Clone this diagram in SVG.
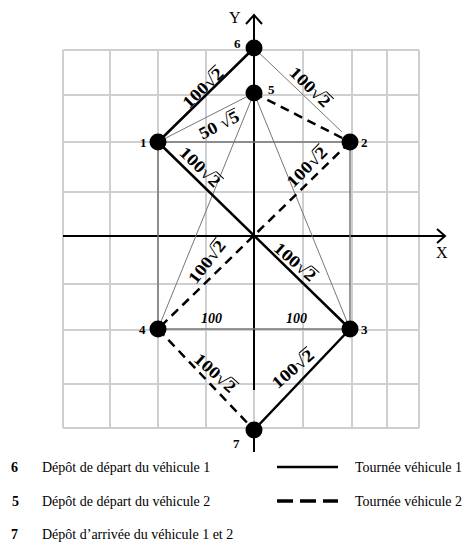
<svg xmlns="http://www.w3.org/2000/svg" width="465" height="542" viewBox="0 0 465 542">
<style>
.grid{stroke:#cfcfcf;stroke-width:2;fill:none}
.ref{stroke:#777;stroke-width:1.5;fill:none}
.thin{stroke:#777;stroke-width:1;fill:none}
.axis{stroke:#000;stroke-width:2;fill:none}
.v1{stroke:#000;stroke-width:2.5;fill:none}
.v2{stroke:#000;stroke-width:2.5;fill:none;stroke-dasharray:9 6}
.node{fill:#000}
.nl{font-family:"Liberation Serif",serif;font-weight:bold;font-size:13px;fill:#000}
.el{font-family:"Liberation Serif",serif;font-weight:bold;font-size:17px;fill:#000}
.it{font-family:"Liberation Serif",serif;font-weight:bold;font-style:italic;font-size:14px;fill:#000}
.vin{stroke:#000;stroke-width:1}
.ax{font-family:"Liberation Serif",serif;font-size:16px;fill:#000}
.lg{font-family:"Liberation Serif",serif;font-size:14px;fill:#000}
.lgn{font-family:"Liberation Serif",serif;font-weight:bold;font-size:14px;fill:#000}
</style>
<g id="grid">
<path class="grid" d="M63 50V428M110 50V428M158 50V428M206 50V428M254 50V428M303 50V428M352 50V428M387 50V428M419 50V428"/>
<path class="grid" d="M63 50H419M63 95H419M63 142H419M63 192H419M63 236H419M63 284H419M63 330H419M63 384H419M63 428H419"/>
</g>
<g id="axes">
<path class="axis" d="M63 236H445M437 229L445 236L437 243"/>
<path class="axis" d="M254 390V15M246 24L254 15L262 24M254 430V452"/>
<text class="ax" x="436" y="258">X</text>
<text class="ax" x="229" y="23">Y</text>
</g>
<g id="connectors">
<path class="ref" d="M158 142V329M350 142V329M158 142H350M158 329H350"/>
<path class="thin" d="M254 48L342 132M158 142L254 93M254 93L158 329M254 93L350 329"/>
<path class="v1" d="M254 48L158 142M158 142L350 329M350 329L254 430"/>
<path class="v2" d="M254 93L350 142M350 142L158 329M158 329L254 430"/>
</g>
<g id="edge-labels">
<g transform="translate(203,88) rotate(-44) scale(1.15,1)"><text class="el" x="-21.7" y="5.5">100√2</text><line class="vin" x1="13" y1="-8" x2="22" y2="-8"/></g>
<g transform="translate(310,87) rotate(44) scale(1.15,1)"><text class="el" x="-21.7" y="5.5">100√2</text><line class="vin" x1="13" y1="-8" x2="22" y2="-8"/></g>
<g transform="translate(200,167) rotate(44) scale(1.15,1)"><text class="el" x="-21.7" y="5.5">100√2</text><line class="vin" x1="13" y1="-8" x2="22" y2="-8"/></g>
<g transform="translate(307,167) rotate(-45) scale(1.15,1)"><text class="el" x="-21.7" y="5.5">100√2</text><line class="vin" x1="13" y1="-8" x2="22" y2="-8"/></g>
<g transform="translate(207,262) rotate(-52) scale(1.15,1)"><text class="el" x="-21.7" y="5.5">100√2</text><line class="vin" x1="13" y1="-8" x2="22" y2="-8"/></g>
<g transform="translate(295,262) rotate(41) scale(1.15,1)"><text class="el" x="-21.7" y="5.5">100√2</text><line class="vin" x1="13" y1="-8" x2="22" y2="-8"/></g>
<g transform="translate(215,373) rotate(42) scale(1.15,1)"><text class="el" x="-21.7" y="5.5">100√2</text><line class="vin" x1="13" y1="-8" x2="22" y2="-8"/></g>
<g transform="translate(293,369) rotate(-41) scale(1.15,1)"><text class="el" x="-21.7" y="5.5">100√2</text><line class="vin" x1="13" y1="-8" x2="22" y2="-8"/></g>
<g transform="translate(219,125) rotate(-27) scale(1.1,1)"><text class="el" x="-19.5" y="5.5">50 √5</text><line class="vin" x1="11" y1="-8" x2="20" y2="-8"/></g>
<text class="it" x="201" y="323">100</text>
<text class="it" x="286" y="323">100</text>
</g>
<g id="n6"><circle class="node" cx="254" cy="48" r="8.5"/><text class="nl" x="234" y="48">6</text></g>
<g id="n5"><circle class="node" cx="254" cy="93" r="8.5"/><text class="nl" x="268" y="94">5</text></g>
<g id="n1"><circle class="node" cx="158" cy="142" r="8.5"/><text class="nl" x="140" y="147">1</text></g>
<g id="n2"><circle class="node" cx="350" cy="142" r="8.5"/><text class="nl" x="361" y="147">2</text></g>
<g id="n3"><circle class="node" cx="350" cy="329" r="8.5"/><text class="nl" x="361" y="334">3</text></g>
<g id="n4"><circle class="node" cx="158" cy="329" r="8.5"/><text class="nl" x="139" y="334">4</text></g>
<g id="n7"><circle class="node" cx="254" cy="430" r="8.5"/><text class="nl" x="233" y="448">7</text></g>
<g id="legend">
<text class="lgn" x="11" y="472">6</text><text class="lg" x="42" y="472">Dépôt de départ du véhicule 1</text>
<text class="lgn" x="12" y="506">5</text><text class="lg" x="42" y="506">Dépôt de départ du véhicule 2</text>
<text class="lgn" x="11" y="539">7</text><text class="lg" x="42" y="539">Dépôt d’arrivée du véhicule 1 et 2</text>
<line x1="277" y1="467" x2="338" y2="467" stroke="#000" stroke-width="2.5"/>
<line x1="277" y1="501" x2="338" y2="501" stroke="#000" stroke-width="3.5" stroke-dasharray="16 7"/>
<text class="lg" x="355" y="472">Tournée véhicule 1</text>
<text class="lg" x="355" y="506">Tournée véhicule 2</text>
</g>
</svg>
